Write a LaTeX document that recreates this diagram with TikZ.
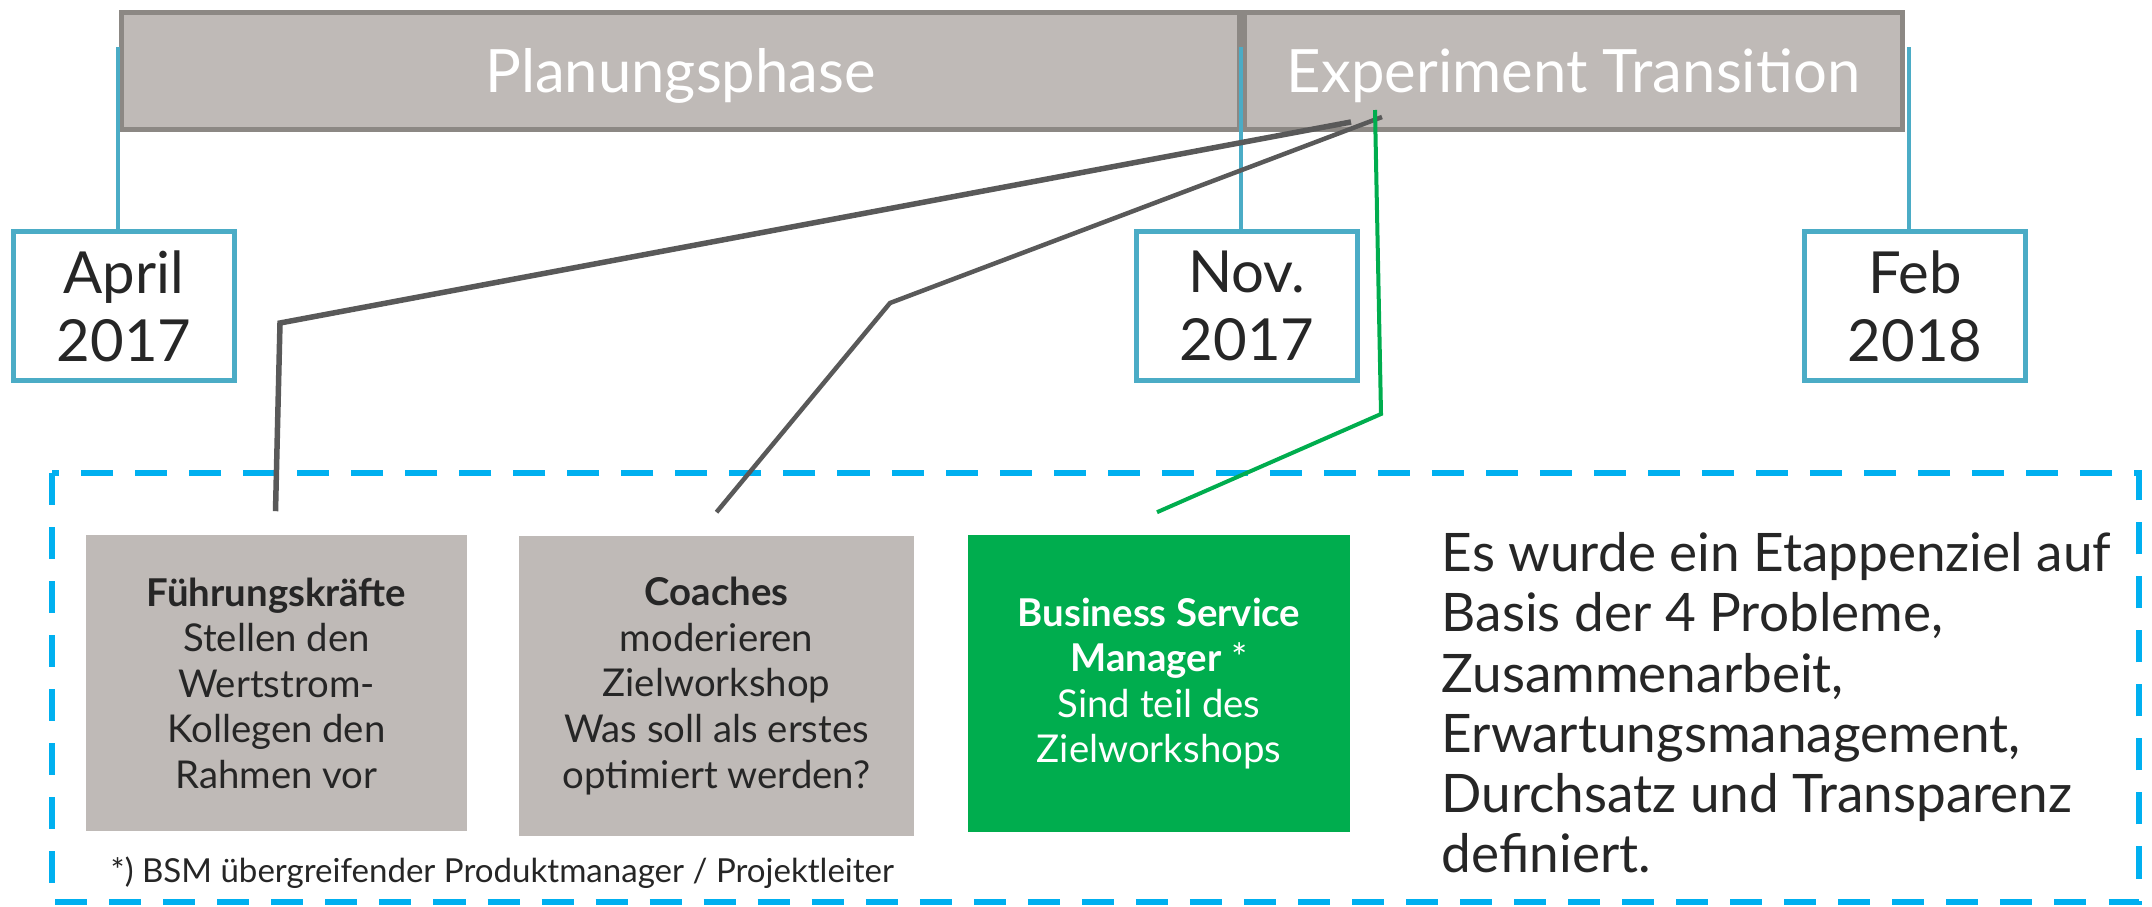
\documentclass[tikz,border=0pt]{standalone}
\usepackage{fontspec}
\setmainfont{Lato}
\usetikzlibrary{positioning,calc}
\definecolor{bargray}{RGB}{191,186,183}
\definecolor{barline}{RGB}{140,136,132}
\definecolor{dateblue}{RGB}{75,172,198}
\definecolor{dashblue}{RGB}{0,176,240}
\definecolor{bsmgreen}{RGB}{0,173,78}
\definecolor{linegray}{RGB}{89,89,89}
\definecolor{textdark}{RGB}{38,38,38}

\begin{document}
\begin{tikzpicture}[x=0.01cm,y=-0.01cm,
  phase/.style={draw=barline,line width=0.05cm,fill=bargray,text=white,
    minimum height=1.17cm,inner sep=0pt,text height=12.2pt,text depth=0pt,
    font=\fontsize{17}{20}\selectfont},
  datebox/.style={draw=dateblue,line width=0.05cm,fill=white,minimum width=2.21cm,
    minimum height=1.48cm,align=center,text=textdark,font=\fontsize{16.5}{19.3}\selectfont},
  rolebox/.style={fill=bargray,align=center,text=textdark,inner sep=0pt,
    font=\fontsize{10.9}{12.95}\selectfont},
  tick/.style={dateblue,line width=0.04cm},
  link/.style={linegray,line width=0.045cm}
]
\useasboundingbox (0,0) rectangle (2152,906);

% the phases
\node[phase,minimum width=11.18cm] (p1) at (680.5,71) {Planungsphase};
\node[phase,minimum width=6.58cm] (p2) at (1573.5,71) {Experiment Transition};

% the dates
\foreach \i/\xcoord/\tx/\txt in {1/124/118/April\\2017,2/1247/1241/Nov.\\2017,3/1915/1909/Feb\\2018}{
  \node[datebox] (d\i) at (\xcoord,306) {\txt};
  \coordinate (t\i) at (\tx,47);
  \draw[tick] (t\i) -- (t\i |- d\i.north);
}

% the frame
\draw[dashblue,line width=0.06cm,dash pattern=on 0.32cm off 0.22cm] (52,473) rectangle (2139,902);

% the roles
\node[rolebox,minimum width=3.81cm,minimum height=2.96cm] (fk) at (276.5,683)
  {\textbf{Führungskräfte}\\Stellen den\\Wertstrom-\\Kollegen den\\Rahmen vor};
\node[rolebox,minimum width=3.95cm,minimum height=3.0cm] (co) at (716.5,686)
  {\textbf{Coaches}\\moderieren\\Zielworkshop\\Was soll als erstes\\optimiert werden?};
\node[rolebox,fill=bsmgreen,text=white,minimum width=3.82cm,minimum height=2.97cm] (bsm) at (1159,683.5)
  {\textbf{Business Service}\\\textbf{Manager} *\\Sind teil des\\Zielworkshops};

% the goal and the note
\node[anchor=north west,inner sep=0pt,align=left,text=textdark,
  font=\fontsize{15.1}{17.1}\selectfont] (goal) at (1441,532)
  {Es wurde ein Etappenziel auf\\Basis der 4 Probleme,\\Zusammenarbeit,\\Erwartungsmanagement,\\Durchsatz und Transparenz\\definiert.};
\node[anchor=base west,inner sep=0pt,text=textdark,font=\fontsize{9.4}{11}\selectfont] (note) at (110,882)
  {*) BSM übergreifender Produktmanager / Projektleiter};

% the links
\coordinate (h1) at (1351,122);
\coordinate (h2) at (1382,117);
\coordinate (h3) at (1375,110);
\draw[link,line width=0.055cm] ($(fk.north)+(-1,-23)$) -- (280,323) -- (h1);
\draw[link] ($(co.north)+(0,-23)$) -- (890,303) -- (h2);
\draw[bsmgreen,line width=0.04cm] ($(bsm.north)+(-2,-22)$) -- (1381,414) -- (h3);
\end{tikzpicture}
\end{document}
